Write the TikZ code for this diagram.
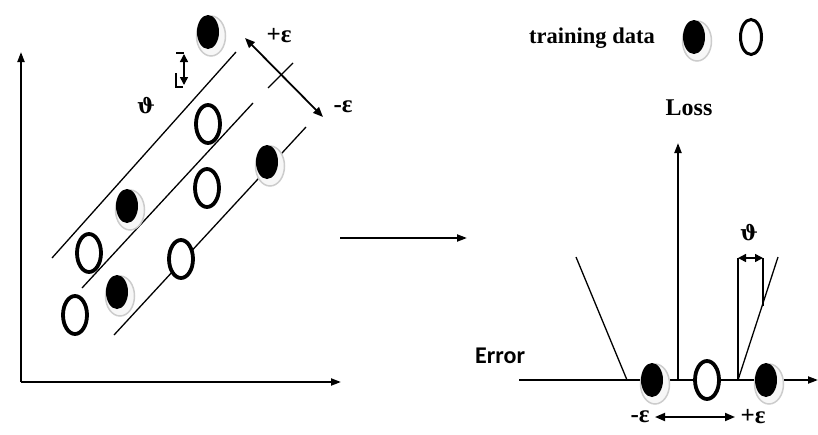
\documentclass[tikz,border=0pt]{standalone}
\usepackage{fontspec}
\setmainfont{Liberation Serif}
\newfontfamily\errfont{Carlito}
\newfontfamily\thfont{DejaVu Serif}
\usetikzlibrary{arrows.meta,shapes.geometric}
\begin{document}
\begin{tikzpicture}[x=1pt,y=-1pt,
  axis/.style={line width=2pt,-{Triangle[length=10pt,width=7pt]}},
  thin line/.style={line width=1.3pt},
  dbl/.style={line width=1.8pt,{Triangle[length=10pt,width=8pt]}-{Triangle[length=10pt,width=8pt]}},
  sdbl/.style={line width=1.5pt,{Triangle[length=8pt,width=8pt]}-{Triangle[length=8pt,width=8pt]}},
  fpt/.style={ellipse,fill=black,minimum width=22pt,minimum height=34pt,inner sep=0pt},
  halo/.style={ellipse,fill=gray!6,draw=gray!40,line width=1.5pt,minimum width=29pt,minimum height=40pt,inner sep=0pt},
  opt/.style={ellipse,draw=black,fill=white,line width=3.8pt,minimum width=24pt,minimum height=38pt,inner sep=0pt},
  lbl/.style={font=\bfseries\fontsize{22.5}{22.5}\selectfont,inner sep=0pt},
  eps/.style={font=\bfseries\fontsize{25}{25}\selectfont,inner sep=0pt},
  th/.style={font=\thfont\bfseries\fontsize{21}{21}\selectfont,inner sep=0pt}
]
\newcommand\blackdot[3]{\node[halo] (#1h) at (#2+3,#3+4) {};\node[fpt] (#1) at (#2,#3) {};}
\useasboundingbox (0,0) rectangle (818,434);
% ---------- left panel ----------
\coordinate (O) at (21,382);
\coordinate (Ytop) at (21,52);
\coordinate (Xend) at (341,382);
\draw[axis] (O) -- (Ytop);
\draw[axis] (O) -- (Xend);
% margin lines
\coordinate (a1) at (52,258); \coordinate (a2) at (236,52);
\coordinate (b1) at (82,288); \coordinate (b2) at (253,103);
\coordinate (b3) at (268,88); \coordinate (b4) at (293,63);
\coordinate (c1) at (114,335); \coordinate (c2) at (306,127);
\draw[thin line] (a1) -- (a2);
\draw[thin line] (b1) -- (b2);
\draw[thin line] (b3) -- (b4);
\draw[thin line] (c1) -- (c2);
% data points
\blackdot{p1}{208}{32}
\node[opt] (q1) at (208,124) {};
\blackdot{p2}{267}{162}
\blackdot{p3}{127}{206}
\node[opt] (q2) at (207,188) {};
\node[opt] (q3) at (89,253) {};
\node[opt] (q4) at (181,259) {};
\blackdot{p4}{117}{292}
\node[opt] (q5) at (75,315) {};
% epsilon arrow
\coordinate (e1) at (245,38); \coordinate (e2) at (323,117);
\draw[dbl] (e1) -- (e2);
\node[eps] (pe) at (279,36) {+ε};
\node[eps] (me) at (343,107) {-ε};
% small theta marker
\coordinate (s1) at (176,53); \coordinate (s2) at (184,53);
\coordinate (s3) at (184,54); \coordinate (s4) at (184,85);
\coordinate (s5) at (176,73); \coordinate (s6) at (176,87); \coordinate (s7) at (183,87);
\draw[line width=1.5pt] (s1) -- (s2);
\draw[sdbl] (s3) -- (s4);
\draw[line width=1.5pt] (s5) -- (s6) -- (s7);
\node[th] (thL) at (146,106) {ϑ};
% middle arrow
\coordinate (m1) at (340,238); \coordinate (m2) at (467,238);
\draw[axis] (m1) -- (m2);
% ---------- right panel ----------
\node[lbl] (td) at (592,38) {training data};
\blackdot{lp}{694}{37}
\node[ellipse,draw=black,line width=3pt,minimum width=21pt,minimum height=35pt,inner sep=0pt] (lo) at (751,37) {};
\node[lbl,font=\bfseries\fontsize{24}{24}\selectfont] (loss) at (689,108) {Loss};
\coordinate (L0) at (678,380); \coordinate (Ltop) at (678,143);
\coordinate (E0) at (519,380); \coordinate (Eend) at (818,380);
\draw[axis] (L0) -- (Ltop);
\draw[axis] (E0) -- (Eend);
\node[font=\errfont\bfseries\fontsize{24}{24}\selectfont,inner sep=0pt,anchor=base west] (err) at (475,363) {Error};
\coordinate (v1) at (576,257); \coordinate (v2) at (627,380);
\draw[thin line] (v1) -- (v2);
\coordinate (r0) at (738,380); \coordinate (r1) at (738,258);
\coordinate (r2) at (778,257); \coordinate (r3) at (763,258); \coordinate (r4) at (763,306);
\draw[thin line] (r0) -- (r1);
\draw[thin line] (r0) -- (r2);
\draw[thin line] (r3) -- (r4);
\draw[sdbl] (r1) -- (r3);
\node[th] (thR) at (749,233) {ϑ};
\blackdot{bp1}{652}{380}
\node[opt] (bq) at (707,380) {};
\blackdot{bp2}{766}{380}
\coordinate (f1) at (655,417); \coordinate (f2) at (735,417);
\draw[dbl] (f1) -- (f2);
\node[eps] (me2) at (640,417) {-ε};
\node[eps] (pe2) at (753,417) {+ε};
\end{tikzpicture}
\end{document}
